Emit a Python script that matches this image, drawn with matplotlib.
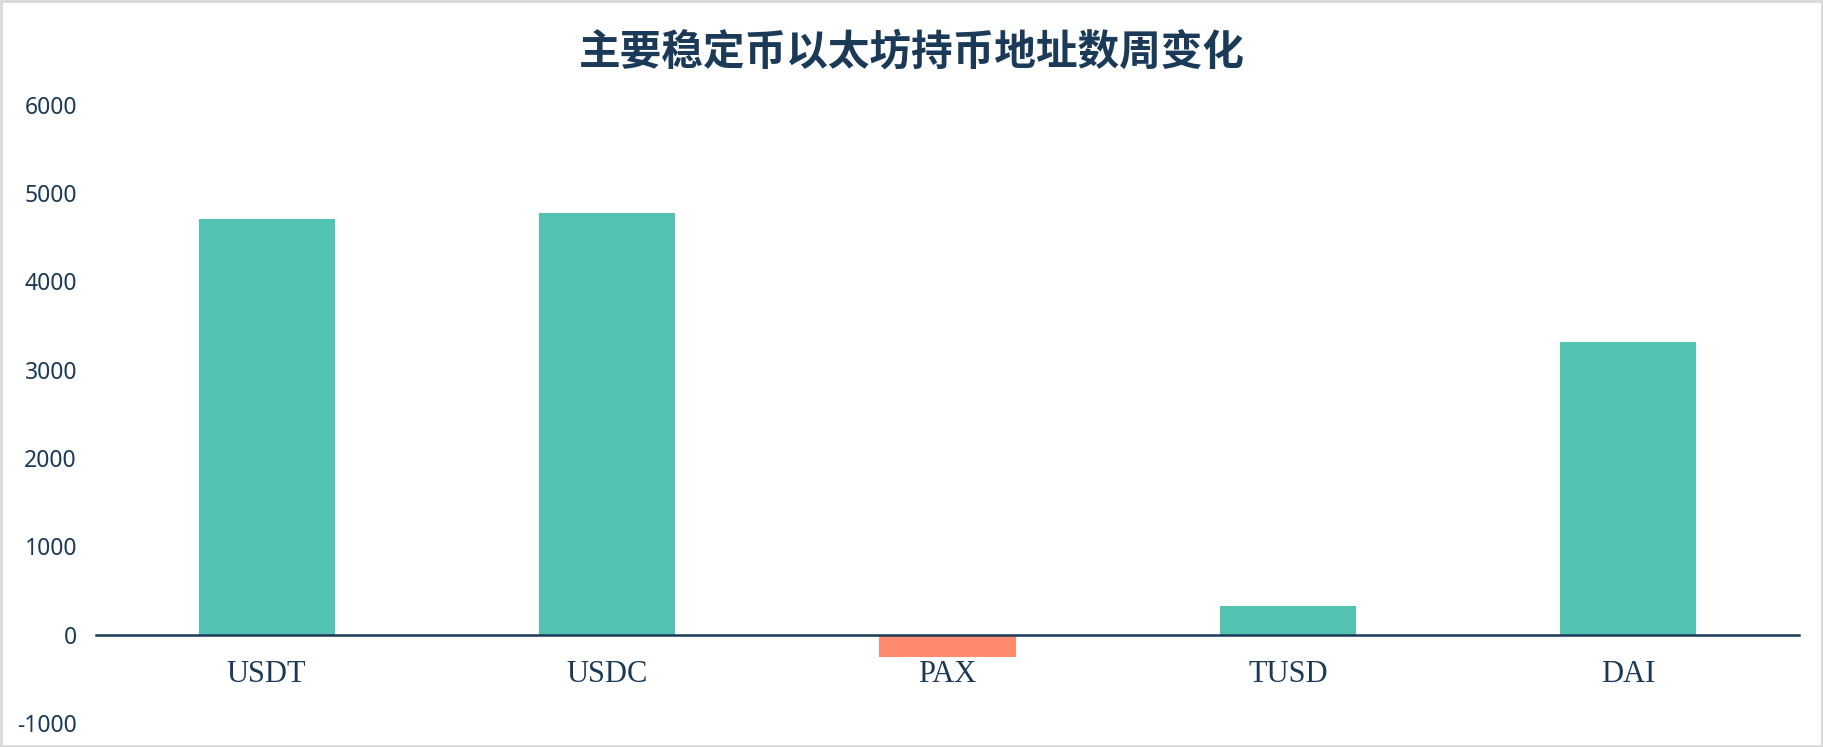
import matplotlib
matplotlib.use("Agg")
import matplotlib.pyplot as plt
from matplotlib.patches import Rectangle

categories = ["USDT", "USDC", "PAX", "TUSD", "DAI"]
values = [4710, 4776, -250, 329, 3316]
yticks = [-1000, 0, 1000, 2000, 3000, 4000, 5000, 6000]
title = "主要稳定币以太坊持币地址数周变化"

navy = "#1B3A57"
teal = "#52C2B2"
salmon = "#FF8A6E"

fig = plt.figure(figsize=(18.23, 7.47), dpi=100)
ax = fig.add_axes([0.0529, 0.032, 0.9337, 0.828])

for name, s in ax.spines.items():
    s.set_visible(False)
ax.spines["bottom"].set_visible(True)
ax.spines["bottom"].set_position(("data", 0))
ax.spines["bottom"].set_color(navy)
ax.spines["bottom"].set_linewidth(1.8)
ax.spines["bottom"].set_zorder(3)

colors = [teal if v >= 0 else salmon for v in values]
x = list(range(len(categories)))
ax.bar(x, values, width=0.4, color=colors, zorder=2)

ax.set_xlim(-0.5, len(categories) - 0.5)
ax.set_ylim(-1000, 6000)
ax.set_yticks(yticks)
ax.set_yticklabels([str(t) for t in yticks], family="Noto Sans", fontsize=16.5, color=navy)
ax.set_xticks(x)
ax.set_xticklabels(categories, family="Liberation Serif", fontsize=22, color=navy)
ax.tick_params(axis="y", length=0, pad=14)
ax.tick_params(axis="x", length=0, pad=18)

fig.text(0.5003, 0.930, title, ha="center", va="center", fontsize=30,
         family=["Noto Sans CJK SC", "DejaVu Sans"], fontweight="bold", color=navy)

fig.patches.append(Rectangle((0.0008, 0.0013), 0.9984, 0.9974, transform=fig.transFigure,
                             fill=False, edgecolor="#D9D9D9", linewidth=2))

fig.savefig("out.png", dpi=100)
